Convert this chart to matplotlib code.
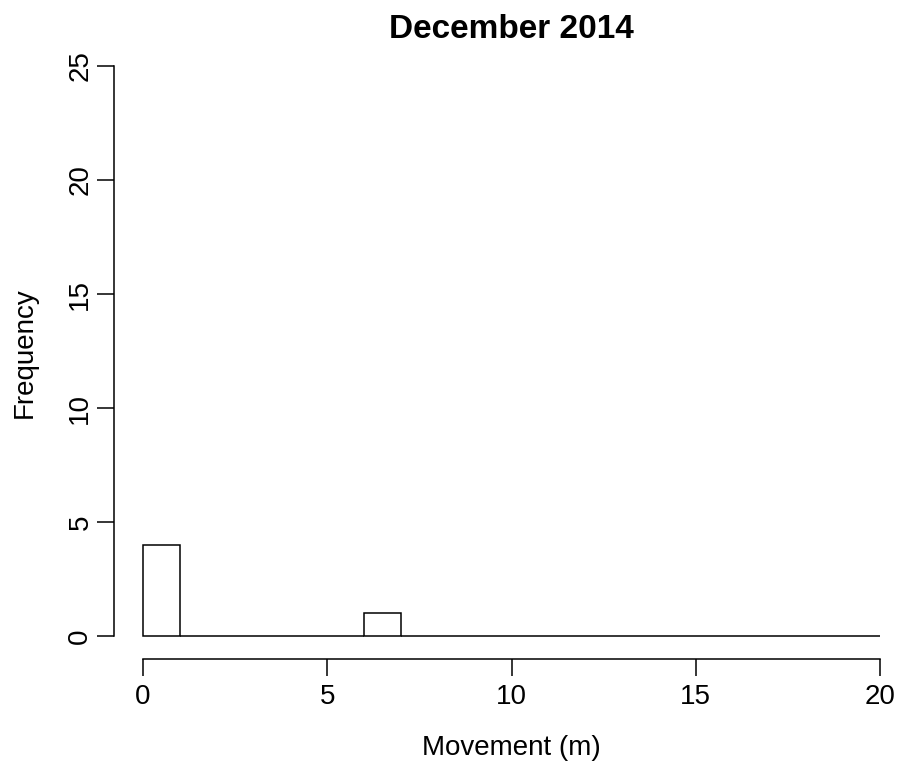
import matplotlib
matplotlib.use("Agg")
import matplotlib.pyplot as plt

plt.rcParams['font.family'] = ['Liberation Sans', 'DejaVu Sans']

bin_edges = list(range(0, 21))
counts = [4, 0, 0, 0, 0, 0, 1, 0, 0, 0, 0, 0, 0, 0, 0, 0, 0, 0, 0, 0]
x_ticks = [0, 5, 10, 15, 20]
y_ticks = [0, 5, 10, 15, 20, 25]
title = "December 2014"
xlabel = "Movement (m)"
ylabel = "Frequency"

W, H = 900, 767
fig = plt.figure(figsize=(9, 7.67), dpi=100)
left_px, right_px = 113.5, 909.5
top_px, bottom_px = 43.2, 658.8
ax = fig.add_axes([left_px / W, 1 - bottom_px / H, (right_px - left_px) / W, (bottom_px - top_px) / H])
ax.set_xlim(-0.8, 20.8)
ax.set_ylim(-1, 26)

widths = [bin_edges[i + 1] - bin_edges[i] for i in range(len(counts))]
ax.bar(bin_edges[:-1], counts, width=widths, align='edge', facecolor='white',
       edgecolor='black', linewidth=1.1)

for s in ['top', 'right']:
    ax.spines[s].set_visible(False)
ax.spines['left'].set_bounds(0, 25)
ax.spines['bottom'].set_bounds(0, 20)
for s in ['left', 'bottom']:
    ax.spines[s].set_linewidth(1.1)

ax.set_xticks(x_ticks)
ax.set_yticks(y_ticks)
ax.set_yticklabels([str(v) for v in y_ticks], rotation=90, va='center')
ax.tick_params(axis='both', direction='out', length=12.5, width=1.1, labelsize=20)
ax.tick_params(axis='x', pad=6)
ax.tick_params(axis='y', pad=2)

fig.text(511 / W, 1 - 30 / H, title, ha='center', va='center', fontsize=24, fontweight='bold')
fig.text(511 / W, 1 - 748 / H, xlabel, ha='center', va='center', fontsize=20)
fig.text(25 / W, 1 - 353 / H, ylabel, ha='center', va='center', fontsize=20, rotation=90)

fig.savefig("out.png", dpi=100, facecolor='white')
